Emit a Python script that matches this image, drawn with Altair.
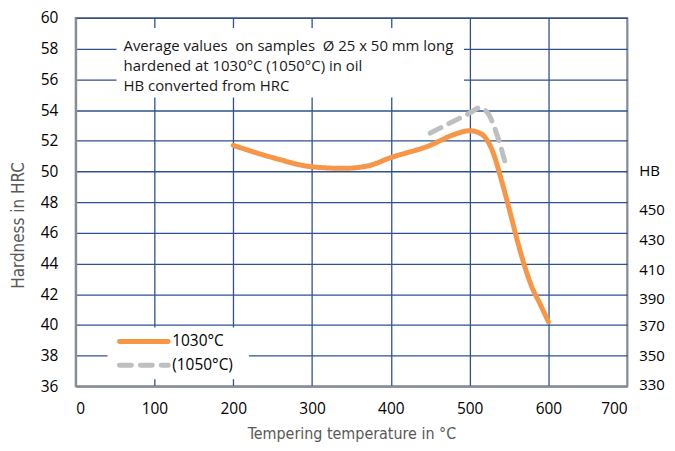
import altair as alt
import pandas as pd

# ---- data ----
t1030 = [200, 250, 300, 340, 370, 400, 450, 480, 500, 510, 520, 530, 540, 550, 560, 570, 578, 590, 600]
h1030 = [51.7, 50.9, 50.3, 50.2, 50.35, 50.9, 51.7, 52.4, 52.65, 52.55, 52.2, 51.2, 49.5, 47.6, 45.6, 43.8, 42.6, 41.3, 40.2]

t1050 = [450, 473, 500, 513, 523, 536, 546]
h1050 = [52.5, 53.1, 53.8, 54.15, 53.8, 52.2, 50.4]

series_names = ["1030°C", "(1050°C)"]
series_colors = ["#F79646", "#BFBFBF"]
series_dash = [[1, 0], [12, 9]]

hb_labels = ["HB", "450", "430", "410", "390", "370", "350", "330"]
hb_pos = [50.0, 47.5, 45.5, 43.6, 41.7, 39.9, 38.0, 36.1]

note_lines = [
    "Average values \u00a0on samples \u00a0\u00d8 25 x 50 mm long",
    "hardened at 1030°C (1050°C) in oil",
    "HB converted from HRC",
]

x_ticks = [0, 100, 200, 300, 400, 500, 600, 700]
y_ticks = list(range(36, 61, 2))

df = pd.concat([
    pd.DataFrame({"T": t1030, "H": h1030, "s": series_names[0]}),
    pd.DataFrame({"T": t1050, "H": h1050, "s": series_names[1]}),
])
hb_df = pd.DataFrame({"lab": hb_labels, "H": hb_pos})
note_df = pd.DataFrame({"txt": ["\n".join(note_lines)]})

FONT = "Open Sans"
TFONT = "Liberation Sans Narrow, DejaVu Sans Condensed, Open Sans"
GRID = "#2F528F"
FRAME = "#868E98"

xscale = alt.Scale(domain=[0, 700], nice=False)
yscale = alt.Scale(domain=[36, 60], nice=False, zero=False)

grid_color_x = alt.condition("datum.value == 0 || datum.value == 700", alt.value(FRAME), alt.value(GRID))
grid_color_y = alt.condition("datum.value == 36", alt.value(FRAME), alt.value(GRID))

xaxis = alt.Axis(values=x_ticks, title="Tempering temperature in °C", grid=True, gridColor=grid_color_x,
                 gridWidth=1.3, ticks=False, labelPadding=15, labelFontSize=15.5, labelFont=FONT,
                 labelColor="#000000", labelOverlap=False, titleFont=TFONT,
                 titleFontSize=16, titleFontWeight="normal", titleColor="#595959", titlePadding=9,
                 domainColor=FRAME, domainWidth=2)
yaxis = alt.Axis(values=y_ticks, title="Hardness in HRC", grid=True, gridColor=grid_color_y,
                 gridWidth=1.3, ticks=False, labelPadding=18, labelFontSize=15.5, labelFont=FONT,
                 labelColor="#000000", labelOverlap=False, titleFont=TFONT,
                 titleFontSize=17, titleFontWeight="normal", titleColor="#595959",
                 titleX=-48, titleY=208, domainColor=FRAME, domainWidth=2)

color = alt.Color("s:N", scale=alt.Scale(domain=series_names, range=series_colors), legend=None)
dash = alt.StrokeDash("s:N", scale=alt.Scale(domain=series_names, range=series_dash), legend=None)

one = pd.DataFrame({"a": [0]})

# white box behind the note text
note_box = alt.Chart(one).mark_rect(color="white").encode(
    x=alt.value(41), x2=alt.value(390), y=alt.value(10), y2=alt.value(80))

note = alt.Chart(note_df).mark_text(align="left", baseline="top", font=FONT, fontSize=15,
                                    lineBreak="\n", lineHeight=20, color="#1a1a1a").encode(
    x=alt.value(48), y=alt.value(21), text="txt:N")

lines = alt.Chart(df).mark_line(strokeWidth=5, interpolate="monotone", strokeCap="round").encode(
    x=alt.X("T:Q", scale=xscale, axis=xaxis),
    y=alt.Y("H:Q", scale=yscale, axis=yaxis),
    color=color,
    strokeDash=dash,
    order=alt.Order("T:Q"),
)

hb = alt.Chart(hb_df).mark_text(align="left", baseline="middle", font=FONT, fontSize=15,
                                color="#000000").encode(
    x=alt.value(566),
    y=alt.Y("H:Q", scale=yscale, axis=yaxis),
    text="lab:N")

# manual legend
legend_box = alt.Chart(one).mark_rect(color="white").encode(
    x=alt.value(32), x2=alt.value(174), y=alt.value(311), y2=alt.value(363))
legend_layers = [legend_box]
for i, (nm, col, dsh) in enumerate(zip(series_names, series_colors, series_dash)):
    row = 325 + 24 * i
    legend_layers.append(
        alt.Chart(pd.DataFrame({"s": [nm]})).mark_rule(strokeWidth=5, strokeCap="round",
                                                       color=col, strokeDash=dsh).encode(
            x=alt.value(44), x2=alt.value(93), y=alt.value(row)))
    legend_layers.append(
        alt.Chart(pd.DataFrame({"s": [nm]})).mark_text(align="left", baseline="middle", font=FONT,
                                                       fontSize=15.5, color="#000000").encode(
            x=alt.value(97), y=alt.value(row), text="s:N"))

chart = alt.layer(note_box, *legend_layers, lines, hb, note).properties(
    width=554, height=370,
    padding={"left": 68, "top": 9, "right": 40, "bottom": 56},
    autosize=alt.AutoSizeParams(type="none"),
).configure_view(stroke=FRAME, strokeWidth=2)

chart.save("out.html", embed_options={"renderer": "svg", "actions": False})
